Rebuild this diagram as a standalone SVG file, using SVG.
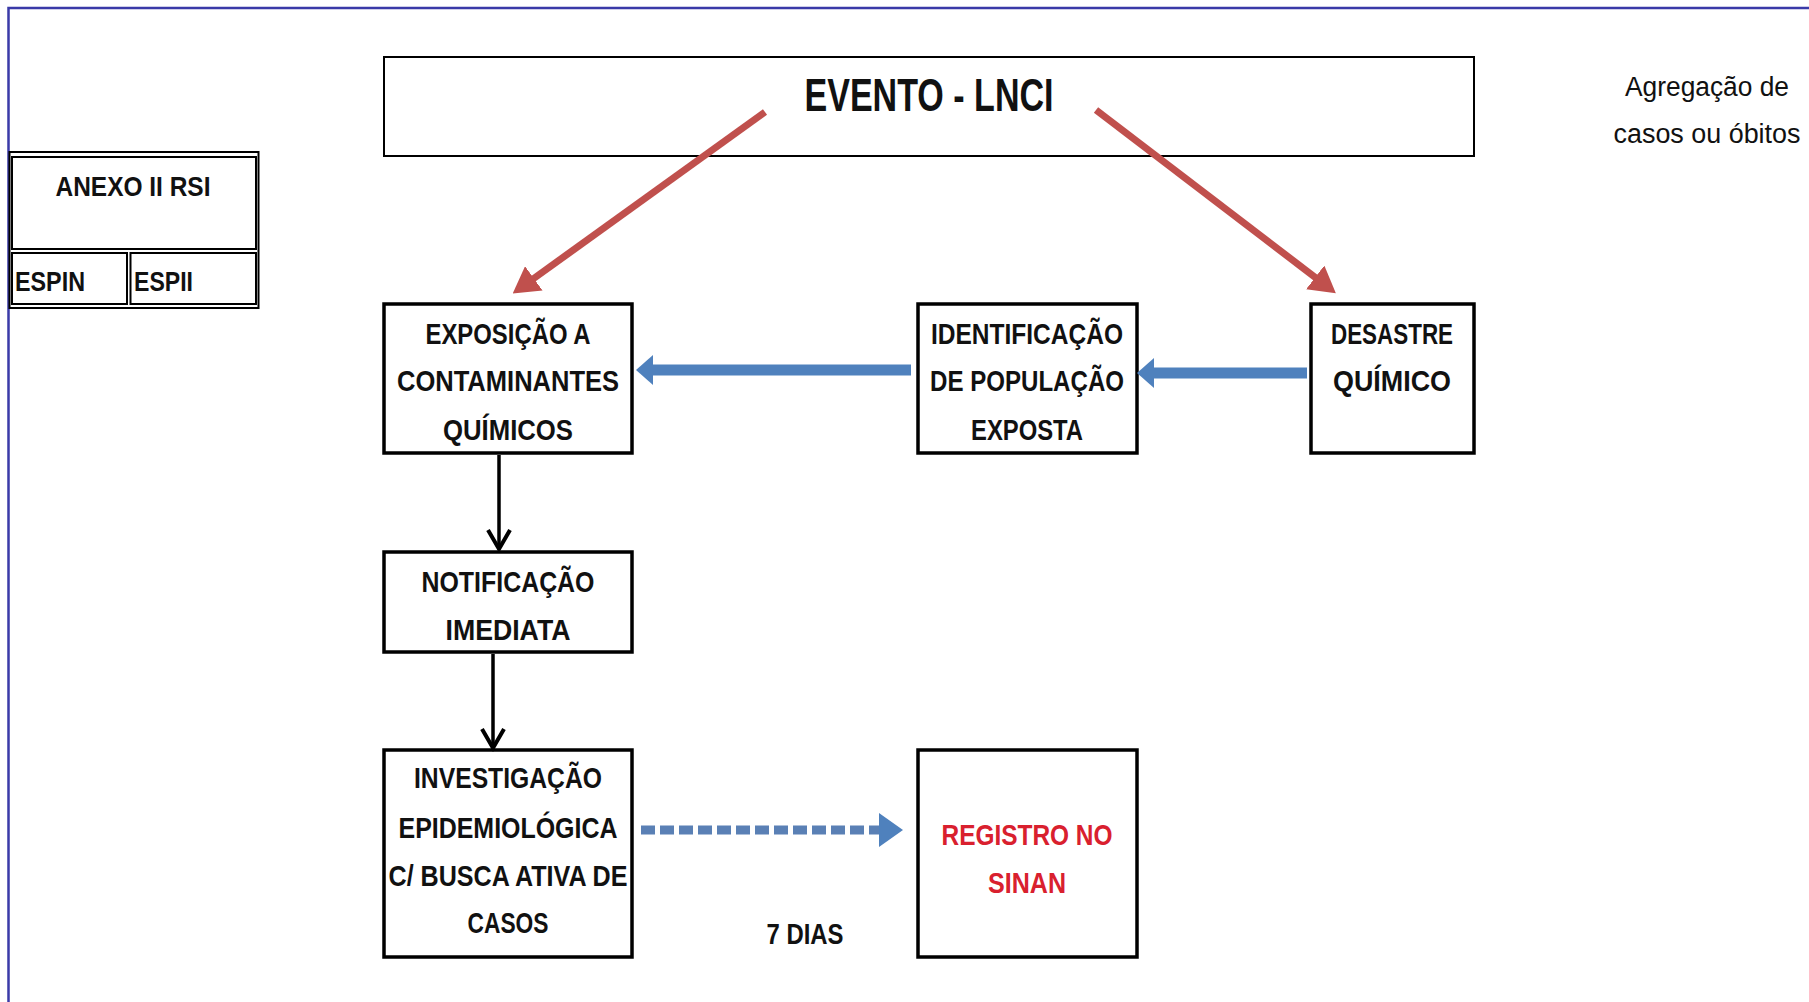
<svg xmlns="http://www.w3.org/2000/svg" width="1809" height="1002" viewBox="0 0 1809 1002">
<style>
  .box { fill: #ffffff; stroke: #000000; stroke-width: 3.5; }
  .thin { fill: #ffffff; stroke: #000000; stroke-width: 2; }
  .t { font-family: "Liberation Sans", Arial, sans-serif; fill: #111111; text-anchor: middle; }
  .bw { font-weight: bold; }
  .b { font-size: 30px; font-weight: bold; }
  .red { fill: #d9202e; }
  .frame { stroke: #3a3aa8; stroke-width: 2.5; fill: none; }
</style>
<defs>
  <marker id="redHead" markerUnits="userSpaceOnUse" viewBox="0 0 26 30" refX="1" refY="15" markerWidth="26" markerHeight="30" orient="auto">
    <path d="M0,0 L26,15 L0,30 z" fill="#c0504d"/>
  </marker>
  <marker id="blueHead" markerUnits="userSpaceOnUse" viewBox="0 0 17 30" refX="1" refY="15" markerWidth="17" markerHeight="30" orient="auto">
    <path d="M0,0 L17,15 L0,30 z" fill="#4f81bd"/>
  </marker>
  <marker id="dashHead" markerUnits="userSpaceOnUse" viewBox="0 0 24 34" refX="1" refY="17" markerWidth="24" markerHeight="34" orient="auto">
    <path d="M0,0 L24,17 L0,34 z" fill="#4f81bd"/>
  </marker>
  <marker id="blackHead" markerUnits="userSpaceOnUse" viewBox="0 0 30 30" refX="25" refY="15" markerWidth="30" markerHeight="30" orient="auto" overflow="visible">
    <path d="M6,4 L25,15 L6,26" fill="none" stroke="#000" stroke-width="4"/>
  </marker>
</defs>
<rect width="1809" height="1002" fill="#ffffff"/>
<path class="frame" d="M8.5,1002 L8.5,8 L1809,8"/>

<g id="anexo">
  <rect x="9.5" y="152" width="249" height="156" fill="none" stroke="#000" stroke-width="2"/>
  <rect x="12" y="157" width="244" height="92" class="thin"/>
  <rect x="12" y="253" width="115" height="51" class="thin"/>
  <rect x="130.5" y="253" width="125.5" height="51" class="thin"/>
  <text class="t bw" x="133" y="196" font-size="28" textLength="155" lengthAdjust="spacingAndGlyphs">ANEXO II RSI</text>
  <text class="t bw" x="15" y="291" font-size="28" style="text-anchor:start" textLength="70" lengthAdjust="spacingAndGlyphs">ESPIN</text>
  <text class="t bw" x="134" y="291" font-size="28" style="text-anchor:start" textLength="59" lengthAdjust="spacingAndGlyphs">ESPII</text>
</g>

<g id="evento">
  <rect x="384" y="57" width="1090" height="99" class="thin"/>
  <text class="t bw" x="929" y="111" font-size="47" textLength="249" lengthAdjust="spacingAndGlyphs">EVENTO - LNCI</text>
</g>

<g id="agregacao">
  <text class="t" x="1707" y="96" font-size="27" textLength="164" lengthAdjust="spacingAndGlyphs">Agregação de</text>
  <text class="t" x="1707" y="143" font-size="27" textLength="187" lengthAdjust="spacingAndGlyphs">casos ou óbitos</text>
</g>

<g id="exposicao">
  <rect x="384" y="304" width="248" height="149" class="box"/>
  <text class="t b" x="508" y="344" textLength="165" lengthAdjust="spacingAndGlyphs">EXPOSIÇÃO A</text>
  <text class="t b" x="508" y="391" textLength="222" lengthAdjust="spacingAndGlyphs">CONTAMINANTES</text>
  <text class="t b" x="508" y="440" textLength="130" lengthAdjust="spacingAndGlyphs">QUÍMICOS</text>
</g>

<g id="identificacao">
  <rect x="918" y="304" width="219" height="149" class="box"/>
  <text class="t b" x="1027" y="344" textLength="192" lengthAdjust="spacingAndGlyphs">IDENTIFICAÇÃO</text>
  <text class="t b" x="1027" y="391" textLength="194" lengthAdjust="spacingAndGlyphs">DE POPULAÇÃO</text>
  <text class="t b" x="1027" y="440" textLength="112" lengthAdjust="spacingAndGlyphs">EXPOSTA</text>
</g>

<g id="desastre">
  <rect x="1311" y="304" width="163" height="149" class="box"/>
  <text class="t b" x="1392" y="344" textLength="122" lengthAdjust="spacingAndGlyphs">DESASTRE</text>
  <text class="t b" x="1392" y="391" textLength="118" lengthAdjust="spacingAndGlyphs">QUÍMICO</text>
</g>

<g id="notificacao">
  <rect x="384" y="552" width="248" height="100" class="box"/>
  <text class="t b" x="508" y="592" textLength="173" lengthAdjust="spacingAndGlyphs">NOTIFICAÇÃO</text>
  <text class="t b" x="508" y="640" textLength="125" lengthAdjust="spacingAndGlyphs">IMEDIATA</text>
</g>

<g id="investigacao">
  <rect x="384" y="750" width="248" height="207" class="box"/>
  <text class="t b" x="508" y="788" textLength="188" lengthAdjust="spacingAndGlyphs">INVESTIGAÇÃO</text>
  <text class="t b" x="508" y="838" textLength="219" lengthAdjust="spacingAndGlyphs">EPIDEMIOLÓGICA</text>
  <text class="t b" x="508" y="886" textLength="239" lengthAdjust="spacingAndGlyphs">C/ BUSCA ATIVA DE</text>
  <text class="t b" x="508" y="933" textLength="81" lengthAdjust="spacingAndGlyphs">CASOS</text>
</g>

<g id="registro">
  <rect x="918" y="750" width="219" height="207" class="box"/>
  <text class="t b red" x="1027" y="845" textLength="171" lengthAdjust="spacingAndGlyphs">REGISTRO NO</text>
  <text class="t b red" x="1027" y="893" textLength="78" lengthAdjust="spacingAndGlyphs">SINAN</text>
</g>

<g id="sete-dias">
  <text class="t b" x="805" y="944" textLength="77" lengthAdjust="spacingAndGlyphs">7 DIAS</text>
</g>

<g id="connectors">
  <line x1="765" y1="112" x2="533" y2="279" stroke="#c0504d" stroke-width="7" marker-end="url(#redHead)"/>
  <line x1="1096" y1="110" x2="1316" y2="278" stroke="#c0504d" stroke-width="7" marker-end="url(#redHead)"/>
  <line x1="911" y1="370" x2="652" y2="370" stroke="#4f81bd" stroke-width="11" marker-end="url(#blueHead)"/>
  <line x1="1307" y1="373" x2="1153" y2="373" stroke="#4f81bd" stroke-width="11" marker-end="url(#blueHead)"/>
  <line x1="499" y1="455" x2="499" y2="549" stroke="#000" stroke-width="3.5" marker-end="url(#blackHead)"/>
  <line x1="493" y1="654" x2="493" y2="748" stroke="#000" stroke-width="3.5" marker-end="url(#blackHead)"/>
  <line x1="641" y1="830" x2="880" y2="830" stroke="#5a80b5" stroke-width="9" stroke-dasharray="14 5" marker-end="url(#dashHead)"/>
</g>
</svg>
